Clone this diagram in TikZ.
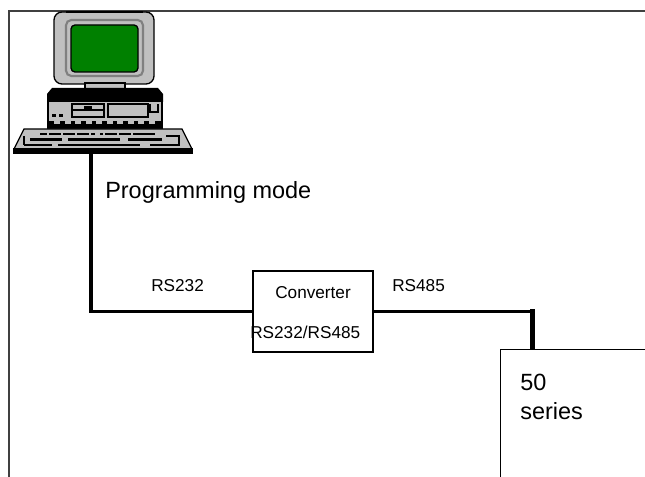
\documentclass[tikz,border=0pt]{standalone}
\usepackage{fontspec}
\setmainfont{Liberation Sans}
\definecolor{pcgray}{HTML}{C0C0C0}
\definecolor{pcdark}{HTML}{808080}
\definecolor{screen}{HTML}{008000}

\begin{document}
\begin{tikzpicture}[x=0.75pt, y=-0.75pt,
    frame/.style={line width=1.2pt, draw=black!75},
    cable/.style={line width=2.4pt},
    box/.style={draw, line width=1.1pt, fill=white},
    big/.style={font=\fontsize{17.6}{21.75}\selectfont, inner sep=0pt},
    small/.style={font=\fontsize{12.9}{15}\selectfont, inner sep=0pt}]
    \useasboundingbox (0,0) rectangle (645,477);
    \clip (0,0) rectangle (645,477);
    \draw [frame] (9,480) to (9,11) to (650,11);

    % monitor
    \draw [fill=pcgray, line width=1pt, rounded corners=6pt] (54,12) rectangle (154,84);
    \draw [line width=2.2pt] (66,12) to (143,12);
    \draw [fill=pcgray, draw=pcdark, line width=1.6pt, rounded corners=4pt] (66,20) rectangle (143,76);
    \draw [fill=screen, line width=1pt, rounded corners=3pt] (71,25) rectangle (138,72);
    \draw [fill=pcgray, line width=1pt] (85,83) rectangle (125,91);

    % system unit
    \draw [fill=pcgray, line width=1pt] (48,96) rectangle (162,128);
    \fill (52,88) -- (158,88) -- (163,94) -- (163,102) -- (47,102) -- (47,94) -- cycle;
    \draw [line width=0.8pt] (72,104) rectangle (104,110);
    \draw [line width=0.8pt] (72,110) rectangle (104,117);
    \draw [line width=0.8pt] (108,104) rectangle (148,117);
    \draw [line width=1pt] (150,104) -- (150,112) -- (158,112) -- (158,104);
    \fill (84,106) rectangle (92,110);
    \fill (52,114) rectangle (56,117);
    \fill (59,114) rectangle (63,117);
    \fill (48,121) rectangle (162,128);
    \foreach \i in {0,...,9}
        \fill [pcgray] ({54+\i*10.5},121) rectangle ++(6,3.5);

    % keyboard
    \draw [fill=pcgray, line width=1pt] (24,129) -- (182,129) -- (192,149) -- (14,149) -- cycle;
    \fill (13,148) rectangle (193,154);
    \draw [line width=1.8pt] (40,134) to (95,134) (100,134) to (155,134)
        (30,139.5) to (62,139.5) (68,139.5) to (120,139.5) (128,139.5) to (162,139.5)
        (24,145) to (52,145) (58,145) to (140,145) (150,145) to (172,145);
    \draw [line width=1.8pt] (24,136) to (24,145);
    \draw [line width=1.8pt] (166,136) to (179,136) to (179,145) to (170,145);
    \foreach \x in {48,62,76,90,104,118,132}
        \draw [pcgray, line width=1pt] (\x,132) to (\x,136);

    \coordinate (pc) at (91,154);
    \node (mode) [big, anchor=base west] at (105,199) {Programming mode};

    \node (conv) [box, minimum width=90pt, minimum height=60.75pt] at (313,311.5) {};
    \node (convname) [small, anchor=base west] at (275,298) {Converter};
    \node (convtype) [small, anchor=base west] at (250,338) {RS232/RS485};
    \node (rs232) [small, anchor=base west] at (151,291) {RS232};
    \node (rs485) [small, anchor=base west] at (392,291) {RS485};

    \coordinate (drop) at (532.5,349);
    \draw [cable, line width=2.8pt] (pc) |- (conv.west);
    \draw [cable, line width=2pt] (conv.east) to (conv.east -| drop);
    \draw [cable, line width=3.8pt, line cap=rect] (conv.east -| drop) to (drop);

    \node (plc) [box, anchor=north west, minimum width=150pt, minimum height=112.5pt] at (500,349) {};
    \node (plcname) [big, anchor=north west, align=left] at (520,374.3) {50\\series};
\end{tikzpicture}
\end{document}
